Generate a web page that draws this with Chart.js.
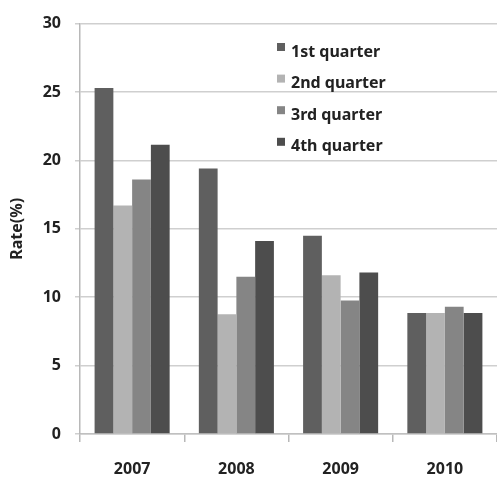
<!DOCTYPE html>
<html>
<head>
<meta charset="utf-8">
<script src="https://cdn.jsdelivr.net/npm/chart.js@4"></script>
<style>
html,body{margin:0;padding:0;background:#fff;}
#wrap{width:497px;height:480px;position:relative;}
</style>
</head>
<body>
<div id="wrap"><canvas id="c" width="497" height="480"></canvas></div>
<script>
const categories = ['2007', '2008', '2009', '2010'];
const seriesLabels = ['1st quarter', '2nd quarter', '3rd quarter', '4th quarter'];
const q1 = [25.3, 19.4, 14.5, 8.85];
const q2 = [16.7, 8.75, 11.6, 8.85];
const q3 = [18.6, 11.5, 9.75, 9.3];
const q4 = [21.15, 14.1, 11.8, 8.85];
const colors = ['#5f5f5f', '#b3b3b3', '#858585', '#4d4d4d'];
const yTicks = [0, 5, 10, 15, 20, 25, 30];

const FONT = '"Noto Sans", "DejaVu Sans", sans-serif';

const legendPlugin = {
  id: 'insideLegend',
  afterDraw(chart) {
    const ctx = chart.ctx;
    ctx.save();
    ctx.font = 'bold 16px ' + FONT;
    ctx.textBaseline = 'middle';
    ctx.textAlign = 'left';
    chart.data.datasets.forEach((ds, i) => {
      const y = 52 + i * 31.6;
      ctx.fillStyle = ds.backgroundColor;
      ctx.fillRect(277, y - 9, 8, 8);
      ctx.fillStyle = '#222';
      ctx.fillText(ds.label, 291, y);
    });
    ctx.restore();
  }
};

new Chart(document.getElementById('c'), {
  type: 'bar',
  data: {
    labels: categories,
    datasets: [q1, q2, q3, q4].map((d, i) => ({
      label: seriesLabels[i],
      data: d,
      backgroundColor: colors[i],
      borderWidth: 0,
      categoryPercentage: 0.72,
      barPercentage: 1.0
    }))
  },
  options: {
    responsive: false,
    animation: false,
    devicePixelRatio: 1,
    layout: { padding: { top: 17, right: -4, bottom: 0, left: 0 } },
    plugins: { legend: { display: false }, tooltip: { enabled: false } },
    scales: {
      x: {
        afterFit(s) { s.height = 46; },
        grid: { display: true, drawOnChartArea: false, drawTicks: true, tickLength: 8, color: '#b8b8b8', lineWidth: 1.5, offset: true },
        border: { display: true, color: '#c0c0c0', width: 1.5 },
        ticks: { color: '#222', font: { family: FONT, size: 16, weight: 'bold' }, padding: 18, maxRotation: 0 }
      },
      y: {
        min: 0, max: 30,
        afterFit(s) { s.width = 80; },
        afterBuildTicks(s) { s.ticks = yTicks.map(v => ({ value: v })); },
        grid: { color: '#cfcfcf', lineWidth: 1.5, tickLength: 5 },
        border: { display: true, color: '#b8b8b8', width: 1.5 },
        ticks: { color: '#222', font: { family: FONT, size: 16, weight: 'bold' }, padding: 14 },
        title: { display: true, text: 'Rate(%)', color: '#222', font: { family: FONT, size: 16, weight: 'bold' }, padding: { top: 8, bottom: 0 } }
      }
    }
  },
  plugins: [legendPlugin]
});
</script>
</body>
</html>
